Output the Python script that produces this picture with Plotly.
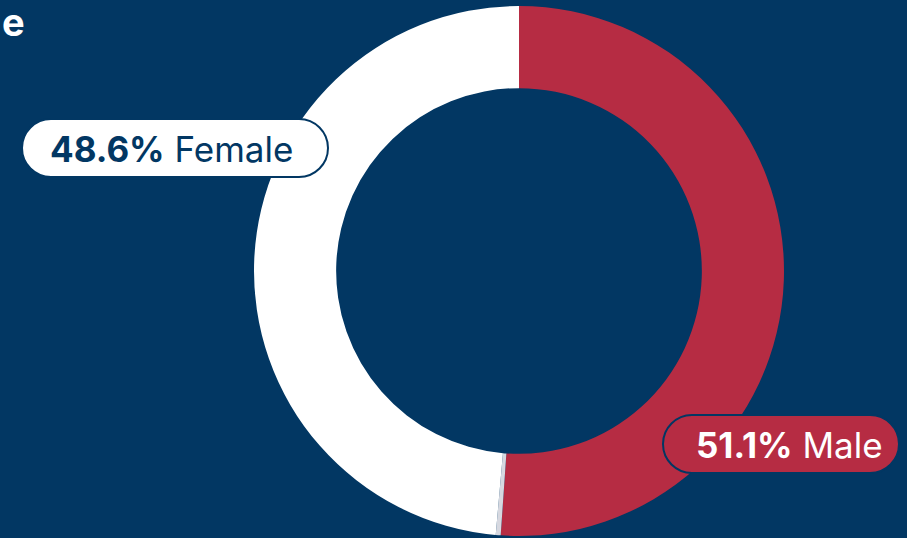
import plotly.graph_objects as go

# Data
categories = ["Male", "Other", "Female"]
shares = [51.1, 0.3, 48.6]
colors = ["#b62c43", "#d6d8e0", "#ffffff"]
label_pcts = ["51.1%", "48.6%"]
label_names = ["Male", "Female"]

W, H = 907, 538
NAVY = "#023763"
RED = "#b62c43"

fig = go.Figure()
fig.add_trace(go.Pie(
    labels=categories, values=shares, sort=False, direction="clockwise", rotation=0,
    hole=0.69, marker=dict(colors=colors, line=dict(width=0)),
    textinfo="none", showlegend=False,
    domain=dict(x=[(519 - 265) / W, (519 + 265) / W], y=[1 - 536 / H, 1 - 6 / H]),
))

def px(x):
    return x / W

def py(y):
    return 1 - y / H

def pill(x0, y0, x1, y1):
    r = (y1 - y0) / 2
    k = 0.5523 * r
    pts = [
        ("M", [(x0 + r, y0)]),
        ("L", [(x1 - r, y0)]),
        ("C", [(x1 - r + k, y0), (x1, y0 + r - k), (x1, y0 + r)]),
        ("C", [(x1, y0 + r + k), (x1 - r + k, y1), (x1 - r, y1)]),
        ("L", [(x0 + r, y1)]),
        ("C", [(x0 + r - k, y1), (x0, y1 - r + k), (x0, y1 - r)]),
        ("C", [(x0, y1 - r - k), (x0 + r - k, y0), (x0 + r, y0)]),
    ]
    s = ""
    for cmd, ps in pts:
        s += cmd + " ".join(f"{px(a):.5f},{py(b):.5f}" for a, b in ps) + " "
    return s + "Z"

# Female pill
fig.add_shape(type="path", xref="paper", yref="paper", path=pill(22, 119, 328, 177),
              fillcolor="#ffffff", line=dict(color=NAVY, width=2))
# Male pill
fig.add_shape(type="path", xref="paper", yref="paper", path=pill(663, 415, 899, 473),
              fillcolor=RED, line=dict(color=NAVY, width=2))

FONT = "Inter"
fig.add_annotation(x=px(171), y=py(149), xref="paper", yref="paper", showarrow=False,
                   text=f"<b>{label_pcts[1]}</b> {label_names[1]}",
                   font=dict(family=FONT, size=35, color=NAVY), xanchor="center", yanchor="middle")
fig.add_annotation(x=px(789), y=py(445), xref="paper", yref="paper", showarrow=False,
                   text=f"<b>{label_pcts[0]}</b> {label_names[0]}",
                   font=dict(family=FONT, size=35, color="#ffffff"), xanchor="center", yanchor="middle")

# Cropped title remnant
fig.add_annotation(x=0, y=py(22), xref="paper", yref="paper", showarrow=False,
                   text="<b>e</b>", font=dict(family=FONT, size=38, color="#ffffff"),
                   xanchor="left", yanchor="middle")

fig.update_layout(width=W, height=H, margin=dict(l=0, r=0, t=0, b=0),
                  paper_bgcolor=NAVY, plot_bgcolor=NAVY)
fig.write_html("out.html", config={"displayModeBar": False})

with open("out.html", encoding="utf-8") as f:
    html = f.read()
html = html.replace("<head>", "<head><style>html,body{margin:0;padding:0;overflow:hidden;background:%s}</style>" % NAVY, 1)
with open("out.html", "w", encoding="utf-8") as f:
    f.write(html)
